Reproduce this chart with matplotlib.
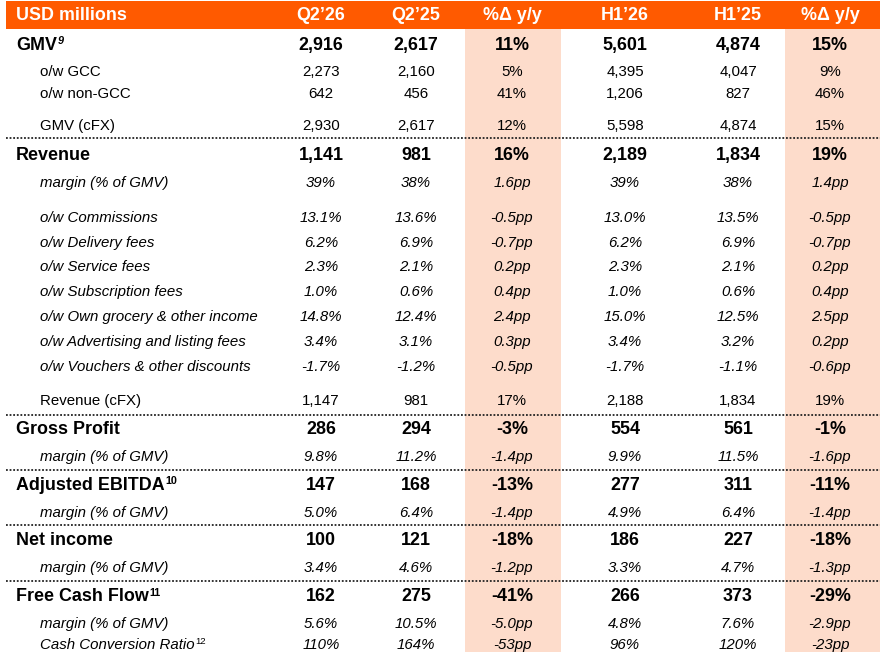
import matplotlib
matplotlib.use("Agg")
import matplotlib.pyplot as plt

plt.rcParams['font.family'] = ['Liberation Sans', 'DejaVu Sans']

# ---------------- data ----------------
headers = ["USD millions", "Q2\u201926", "Q2\u201925", "%\u0394 y/y", "H1\u201926", "H1\u201925", "%\u0394 y/y"]

labels = ["GMV", "o/w GCC", "o/w non-GCC", "GMV (cFX)", "Revenue", "margin (% of GMV)",
          "o/w Commissions", "o/w Delivery fees", "o/w Service fees", "o/w Subscription fees",
          "o/w Own grocery & other income", "o/w Advertising and listing fees",
          "o/w Vouchers & other discounts", "Revenue (cFX)", "Gross Profit", "margin (% of GMV)",
          "Adjusted EBITDA", "margin (% of GMV)", "Net income", "margin (% of GMV)",
          "Free Cash Flow", "margin (% of GMV)", "Cash Conversion Ratio"]
footnotes = {0: "9", 16: "10", 20: "11", 22: "12"}
styles = ["b", "r", "r", "r", "b", "i", "i", "i", "i", "i", "i", "i", "i", "r",
          "b", "i", "b", "i", "b", "i", "b", "i", "i"]

q2_26 = ["2,916", "2,273", "642", "2,930", "1,141", "39%", "13.1%", "6.2%", "2.3%", "1.0%", "14.8%",
         "3.4%", "-1.7%", "1,147", "286", "9.8%", "147", "5.0%", "100", "3.4%", "162", "5.6%", "110%"]
q2_25 = ["2,617", "2,160", "456", "2,617", "981", "38%", "13.6%", "6.9%", "2.1%", "0.6%", "12.4%",
         "3.1%", "-1.2%", "981", "294", "11.2%", "168", "6.4%", "121", "4.6%", "275", "10.5%", "164%"]
q_yoy = ["11%", "5%", "41%", "12%", "16%", "1.6pp", "-0.5pp", "-0.7pp", "0.2pp", "0.4pp", "2.4pp",
         "0.3pp", "-0.5pp", "17%", "-3%", "-1.4pp", "-13%", "-1.4pp", "-18%", "-1.2pp", "-41%",
         "-5.0pp", "-53pp"]
h1_26 = ["5,601", "4,395", "1,206", "5,598", "2,189", "39%", "13.0%", "6.2%", "2.3%", "1.0%", "15.0%",
         "3.4%", "-1.7%", "2,188", "554", "9.9%", "277", "4.9%", "186", "3.3%", "266", "4.8%", "96%"]
h1_25 = ["4,874", "4,047", "827", "4,874", "1,834", "38%", "13.5%", "6.9%", "2.1%", "0.6%", "12.5%",
         "3.2%", "-1.1%", "1,834", "561", "11.5%", "311", "6.4%", "227", "4.7%", "373", "7.6%", "120%"]
h_yoy = ["15%", "9%", "46%", "15%", "19%", "1.4pp", "-0.5pp", "-0.7pp", "0.2pp", "0.4pp", "2.5pp",
         "0.2pp", "-0.6pp", "19%", "-1%", "-1.6pp", "-11%", "-1.4pp", "-18%", "-1.3pp", "-29%",
         "-2.9pp", "-23pp"]
columns = [q2_26, q2_25, q_yoy, h1_26, h1_25, h_yoy]

# ---------------- layout ----------------
W, H = 888, 652
col_x = [321, 416, 512, 625, 738, 830]
baselines = [50, 76, 98, 130, 160, 187, 222, 247, 271, 296, 321, 346, 371, 405,
             434, 461, 490, 517, 545, 572, 601, 628, 649]
sep_y = [138, 415, 470, 525, 581]
ORANGE = "#FF5A00"
SHADE = "#FDDCCB"
BOLD_SIZE = 12.9
REG_SIZE = 10.8

fig = plt.figure(figsize=(W / 100, H / 100), dpi=100)
ax = fig.add_axes([0, 0, 1, 1])
ax.set_xlim(0, W)
ax.set_ylim(H, 0)
ax.axis("off")

# shaded %change columns
ax.axvspan(465, 561, ymin=0, ymax=1 - 28 / H, color=SHADE, lw=0, zorder=0)
ax.axvspan(785, 880, ymin=0, ymax=1 - 28 / H, color=SHADE, lw=0, zorder=0)
# header band
ax.fill_between([6, 880], 1, 28.5, color=ORANGE, lw=0, zorder=1)

ax.text(16, 20, headers[0], color="white", fontsize=BOLD_SIZE, fontweight="bold",
        ha="left", va="baseline", zorder=2)
for x, h in zip(col_x, headers[1:]):
    ax.text(x, 20, h, color="white", fontsize=BOLD_SIZE, fontweight="bold",
            ha="center", va="baseline", zorder=2)

# dotted separators
for y in sep_y:
    ax.plot([6, 880], [y, y], color="#222222", lw=1.3, ls=(0, (1, 1)), zorder=2)


def style_kw(s):
    if s == "b":
        return dict(fontsize=BOLD_SIZE, fontweight="bold", fontstyle="normal")
    if s == "i":
        return dict(fontsize=REG_SIZE, fontweight="normal", fontstyle="italic")
    return dict(fontsize=REG_SIZE, fontweight="normal", fontstyle="normal")


label_texts = []
for i, (lab, s, yb) in enumerate(zip(labels, styles, baselines)):
    kw = style_kw(s)
    lx = 16 if s == "b" else 40
    t = ax.text(lx, yb, lab, color="black", ha="left", va="baseline", zorder=3, **kw)
    label_texts.append(t)
    for x, col in zip(col_x, columns):
        ax.text(x, yb, col[i], color="black", ha="center", va="baseline", zorder=3, **kw)

# footnote superscripts
fig.canvas.draw()
renderer = fig.canvas.get_renderer()
inv = ax.transData.inverted()
for i, fn in footnotes.items():
    bb = label_texts[i].get_window_extent(renderer=renderer)
    xr, _ = inv.transform((bb.x1, bb.y0))
    if styles[i] == "b":
        ax.text(xr + 0.5, baselines[i] - 5.5, fn, color="black", fontsize=7.8,
                fontweight="bold", fontstyle="italic" if fn == "9" else "normal",
                ha="left", va="baseline", zorder=3)
    else:
        ax.text(xr + 0.5, baselines[i] - 4.5, fn, color="black", fontsize=6.8,
                ha="left", va="baseline", zorder=3)

fig.savefig("out.png", dpi=100)
